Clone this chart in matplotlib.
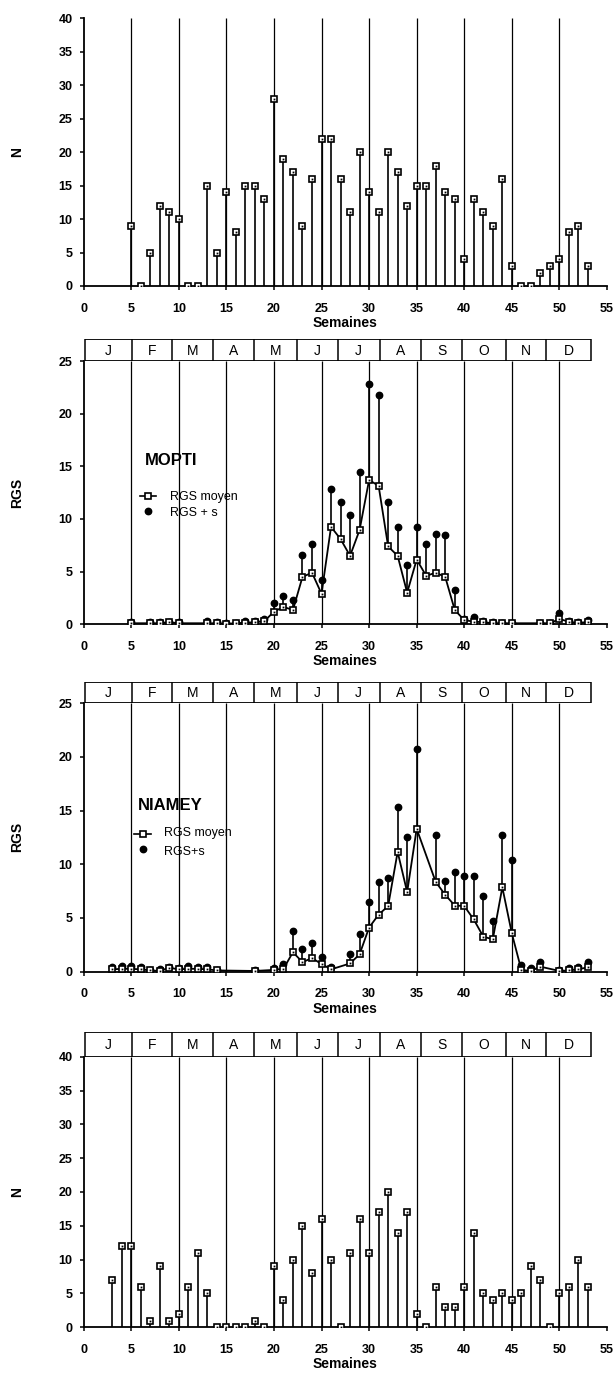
import matplotlib
matplotlib.use('Agg')
import matplotlib.pyplot as plt
from matplotlib.lines import Line2D

plt.rcParams['font.family'] = ['Liberation Sans', 'DejaVu Sans']

# ---------------- data ----------------
weeks_top = list(range(5, 54))
n_top = [9, 0, 5, 12, 11, 10, 0, 0, 15, 5, 14, 8, 15, 15, 13, 28, 19, 17, 9, 16,
         22, 22, 16, 11, 20, 14, 11, 20, 17, 12, 15, 15, 18, 14, 13, 4, 13, 11, 9, 16,
         3, 0, 0, 2, 3, 4, 8, 9, 3]

mopti_weeks = [5, 7, 8, 9, 10, 13, 14, 15, 16, 17, 18, 19, 20, 21, 22, 23, 24, 25, 26, 27,
               28, 29, 30, 31, 32, 33, 34, 35, 36, 37, 38, 39, 40, 41, 42, 43, 44, 45, 48, 49,
               50, 51, 52, 53]
mopti_mean = [0.1, 0.1, 0.1, 0.2, 0.1, 0.1, 0.1, 0.05, 0.1, 0.15, 0.2, 0.3, 1.2, 1.65, 1.36,
              4.5, 4.9, 2.9, 9.25, 8.1, 6.5, 8.95, 13.7, 13.15, 7.4, 6.5, 3.0, 6.15, 4.6, 4.9,
              4.5, 1.36, 0.4, 0.25, 0.2, 0.1, 0.1, 0.1, 0.1, 0.1, 0.5, 0.25, 0.1, 0.25]
mopti_plus_s = [0.2, 0.2, 0.2, 0.25, 0.2, 0.35, 0.2, 0.15, 0.15, 0.35, 0.35, 0.5, 2.05, 2.65, 2.3,
                6.6, 7.6, 4.25, 12.8, 11.65, 10.4, 14.45, 22.8, 21.8, 11.65, 9.25, 5.6, 9.25, 7.6,
                8.55, 8.45, 3.3, 0.47, 0.7, 0.3, 0.2, 0.15, 0.15, 0.15, 0.15, 1.1, 0.35, 0.2, 0.4]

niamey_weeks = [3, 4, 5, 6, 7, 8, 9, 10, 11, 12, 13, 14, 18, 20, 21, 22, 23, 24, 25, 26,
                28, 29, 30, 31, 32, 33, 34, 35, 37, 38, 39, 40, 41, 42, 43, 44, 45, 46, 47, 48,
                50, 51, 52, 53]
niamey_mean = [0.2, 0.25, 0.25, 0.2, 0.1, 0.05, 0.35, 0.2, 0.25, 0.25, 0.2, 0.1, 0.05, 0.15,
               0.25, 1.8, 0.87, 1.25, 0.7, 0.2, 0.75, 1.6, 4.1, 5.3, 6.1, 11.15, 7.4, 13.3,
               8.35, 7.15, 6.15, 6.1, 4.85, 3.25, 3.0, 7.85, 3.55, 0.15, 0.05, 0.45, 0.05, 0.1,
               0.2, 0.4]
niamey_plus_s = [0.45, 0.55, 0.55, 0.45, 0.15, 0.25, 0.4, 0.3, 0.5, 0.45, 0.45, 0.15, 0.1, 0.3,
                 0.7, 3.75, 2.1, 2.65, 1.35, 0.4, 1.65, 3.45, 6.5, 8.3, 8.7, 15.3, 12.55, 20.75,
                 12.75, 8.45, 9.25, 8.9, 8.9, 7.05, 4.75, 12.75, 10.35, 0.56, 0.3, 0.84, 0.1, 0.3,
                 0.4, 0.84]

weeks_bottom = list(range(3, 54))
n_bottom = [7, 12, 12, 6, 1, 9, 1, 2, 6, 11, 5, 0, 0, 0, 0, 1, 0, 9, 4, 10,
            15, 8, 16, 10, 0, 11, 16, 11, 17, 20, 14, 17, 2, 0, 6, 3, 3, 6, 14, 5,
            4, 5, 4, 5, 9, 7, 0, 5, 6, 10, 6]

month_labels = ['J', 'F', 'M', 'A', 'M', 'J', 'J', 'A', 'S', 'O', 'N', 'D']
month_edges = [0.1, 5.1, 9.3, 13.6, 17.9, 22.4, 26.7, 31.1, 35.5, 39.8, 44.4, 48.6, 53.3]
grid_weeks = [5, 10, 15, 20, 25, 30, 35, 40, 45, 50]

# ---------------- figure ----------------
W, H = 615, 1378
fig = plt.figure(figsize=(W / 100, H / 100), dpi=100)


def fx(px):
    return px / W


def fy(px):
    return 1 - px / H


def make_axes(y_zero_px, y_top_px):
    left_px, right_px = 83.6, 607.0
    return fig.add_axes([fx(left_px), fy(y_zero_px), (right_px - left_px) / W,
                         (y_zero_px - y_top_px) / H])


def style(ax, ymax, ylabel):
    ax.set_xlim(0, 55)
    ax.set_ylim(0, ymax)
    ax.spines['top'].set_visible(False)
    ax.spines['right'].set_visible(False)
    ax.spines['left'].set_linewidth(1.3)
    ax.spines['bottom'].set_linewidth(1.3)
    ax.set_xticks(range(0, 56, 5))
    ax.set_yticks(range(0, ymax + 1, 5))
    ax.tick_params(axis='x', direction='out', length=3, width=1.1, labelsize=9, pad=9)
    ax.tick_params(axis='y', direction='out', length=3, width=1.1, labelsize=9, pad=5)
    for lab in ax.get_xticklabels() + ax.get_yticklabels():
        lab.set_fontweight('bold')
    ax.vlines(grid_weeks, 0, ymax, color='black', lw=0.9, zorder=1)
    ax.set_xlabel('Semaines', fontsize=10, fontweight='bold', labelpad=1)
    ax.set_ylabel(ylabel, fontsize=10, fontweight='bold')
    ax.yaxis.set_label_coords(-0.113, 0.5)
    ax.patch.set_visible(False)


def month_band(y_top_px, y_bot_px):
    bx = fig.add_axes([fx(83.6), fy(y_bot_px), (607.0 - 83.6) / W, (y_bot_px - y_top_px) / H])
    bx.set_xlim(0, 55)
    bx.set_ylim(0, 1)
    bx.axis('off')
    bx.hlines([0, 1], month_edges[0], month_edges[-1], color='black', lw=1.3)
    bx.vlines(month_edges, 0, 1, color='black', lw=1.1)
    for i, lab in enumerate(month_labels):
        bx.text((month_edges[i] + month_edges[i + 1]) / 2, 0.47, lab, ha='center', va='center',
                fontsize=10)


def stems(ax, weeks, vals):
    ax.vlines(weeks, 0, vals, color='black', lw=1.2, zorder=2)
    ax.plot(weeks, vals, ls='none', marker='s', ms=4.8, mfc='white', mec='black', mew=1.2, zorder=3)
    ax.plot(weeks, vals, ls='none', marker='s', ms=1.3, mfc='black', mec='black', mew=0, zorder=4)


def rgs(ax, weeks, mean, plus_s, title, lab2, title_xy, leg_y, mk_x, txt_x):
    ax.vlines(weeks, mean, plus_s, color='black', lw=1.2, zorder=2)
    ax.plot(weeks, plus_s, ls='none', marker='o', ms=4.6, mfc='black', mec='black', zorder=3)
    ax.plot(weeks, mean, color='black', lw=1.3, marker='s', ms=4.8, mfc='white', mec='black',
            mew=1.2, zorder=4)
    ax.plot(weeks, mean, ls='none', marker='s', ms=1.3, mfc='black', mec='black', mew=0, zorder=5)
    ax.text(title_xy[0], title_xy[1], title, fontsize=12, fontweight='bold', ha='left', va='center')
    h1 = Line2D([], [], color='black', lw=1.2, marker='s', ms=4.8, mfc='white', mec='black', mew=1.2)
    h2 = Line2D([], [], color='black', lw=0, marker='o', ms=4.6, mfc='black', mec='black')
    ax.text(txt_x, leg_y[0], 'RGS moyen', fontsize=9, ha='left', va='center')
    ax.text(txt_x, leg_y[1], lab2, fontsize=9, ha='left', va='center')
    ax.legend([h1, h2], ['', ''], loc='center', frameon=False,
              bbox_to_anchor=(mk_x / 55, (leg_y[0] + leg_y[1]) / 2 / ax.get_ylim()[1]),
              handlelength=1.3, handletextpad=0, labelspacing=0.25, borderpad=0,
              fontsize=9)


# Panel 1
ax1 = make_axes(286.0, 18.3)
style(ax1, 40, 'N')
stems(ax1, weeks_top, n_top)

# Panel 2: MOPTI
ax2 = make_axes(624.3, 361.0)
style(ax2, 25, 'RGS')
month_band(339.0, 361.0)
rgs(ax2, mopti_weeks, mopti_mean, mopti_plus_s, 'MOPTI', 'RGS + s',
    (6.4, 15.6), (12.1, 10.55), 6.8, 9.1)

# Panel 3: NIAMEY
ax3 = make_axes(971.5, 703.3)
style(ax3, 25, 'RGS')
month_band(682.3, 703.3)
rgs(ax3, niamey_weeks, niamey_mean, niamey_plus_s, 'NIAMEY', 'RGS+s',
    (5.7, 15.5), (12.9, 11.1), 6.2, 8.4)

# Panel 4
ax4 = make_axes(1327.3, 1056.7)
style(ax4, 40, 'N')
month_band(1032.3, 1056.7)
stems(ax4, weeks_bottom, n_bottom)

fig.savefig('out.png', dpi=100)
